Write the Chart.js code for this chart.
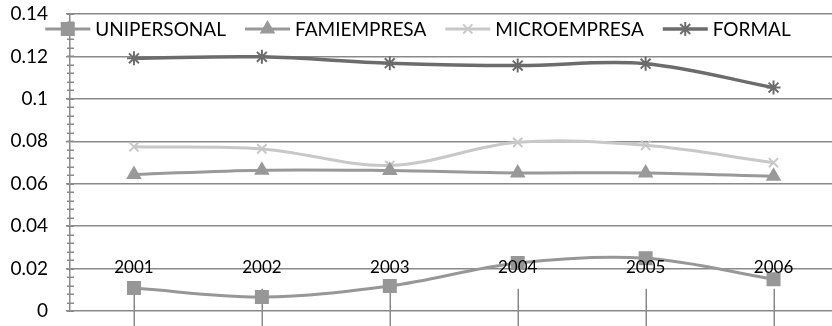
<!DOCTYPE html>
<html>
<head>
<meta charset="utf-8">
<script src="https://cdn.jsdelivr.net/npm/chart.js@4.4.0/dist/chart.umd.min.js"></script>
<style>
  html, body { margin: 0; padding: 0; background: #fff; overflow: hidden; }
  #wrap { width: 832px; height: 326px; overflow: hidden; position: relative; }
  #chart { display: block; }
</style>
</head>
<body>
<div id="wrap"><canvas id="chart" width="848" height="326"></canvas></div>
<script>
// chart data
const years = ['2001', '2002', '2003', '2004', '2005', '2006'];
const seriesNames = ['UNIPERSONAL', 'FAMIEMPRESA', 'MICROEMPRESA', 'FORMAL'];
const unipersonal = [0.0108, 0.0066, 0.0118, 0.0226, 0.0249, 0.0150];
const famiempresa = [0.0643, 0.0664, 0.0662, 0.0651, 0.0651, 0.0635];
const microempresa = [0.0774, 0.0764, 0.0686, 0.0795, 0.0781, 0.0699];
const formal = [0.1191, 0.1198, 0.1168, 0.1157, 0.1166, 0.1053];

const FONT = 'Lato, "Open Sans", sans-serif';
const GRID = '#8a8a8a';

function makeSet(label, data, color, style, radius, width) {
  return {
    label: label,
    data: data,
    borderColor: color,
    backgroundColor: color,
    borderWidth: width,
    tension: 0.35,
    pointStyle: style,
    pointRadius: radius,
    pointBorderWidth: 2,
    pointBorderColor: color,
    pointBackgroundColor: color,
  };
}

const datasets = [
  makeSet(seriesNames[0], unipersonal, '#979797', 'rect', 8.5, 3),
  makeSet(seriesNames[1], famiempresa, '#999999', 'triangle', 7, 3),
  makeSet(seriesNames[2], microempresa, '#c8c8c8', 'crossRot', 6.5, 3),
  makeSet(seriesNames[3], formal, '#6c6c6c', 'star', 7, 3.5),
];

// extra drawing: minor ticks, category ticks/labels, legend
const extras = {
  id: 'extras',
  beforeDatasetsDraw(chart) {
    const ctx = chart.ctx;
    const x = chart.scales.x;
    const y = chart.scales.y;
    const left = chart.chartArea.left;
    ctx.save();
    ctx.strokeStyle = GRID;
    ctx.lineWidth = 1.5;
    // minor ticks on the value axis
    for (let k = 0; k <= 35; k++) {
      const py = Math.round(y.getPixelForValue(k * 0.004)) + 0.25;
      ctx.beginPath();
      ctx.moveTo(left - 3, py);
      ctx.lineTo(left + 4, py);
      ctx.stroke();
    }
    // category tick lines
    years.forEach((yr, i) => {
      const px = Math.round(x.getPixelForValue(i)) + 0.25;
      ctx.beginPath();
      ctx.moveTo(px, y.getPixelForValue(0.0105));
      ctx.lineTo(px, chart.height);
      ctx.stroke();
    });
    ctx.restore();
  },
  afterDatasetsDraw(chart) {
    const ctx = chart.ctx;
    const x = chart.scales.x;
    const y = chart.scales.y;
    ctx.save();
    // category labels
    ctx.font = '17px ' + FONT;
    ctx.fillStyle = '#000';
    ctx.textAlign = 'center';
    ctx.textBaseline = 'middle';
    years.forEach((yr, i) => {
      ctx.fillText(yr, x.getPixelForValue(i), y.getPixelForValue(0.02) - 1);
    });
    // legend
    ctx.font = '19px ' + FONT;
    ctx.textAlign = 'left';
    const lineLen = 45, gap = 5, itemGap = 19;
    const widths = seriesNames.map((n) => ctx.measureText(n).width);
    let total = 0;
    widths.forEach((w) => { total += lineLen + gap + w; });
    total += itemGap * (widths.length - 1);
    let lx = 418 - total / 2;
    const ly = 29;
    chart.data.datasets.forEach((ds, i) => {
      ctx.strokeStyle = ds.borderColor;
      ctx.lineWidth = ds.borderWidth;
      ctx.beginPath();
      ctx.moveTo(lx, ly);
      ctx.lineTo(lx + lineLen, ly);
      ctx.stroke();
      ctx.fillStyle = ds.pointBackgroundColor;
      ctx.strokeStyle = ds.pointBorderColor;
      ctx.lineWidth = ds.pointBorderWidth;
      Chart.helpers.drawPoint(ctx, {
        pointStyle: ds.pointStyle,
        radius: ds.pointRadius,
        rotation: 0,
        borderWidth: ds.pointBorderWidth,
      }, lx + lineLen / 2, ly);
      ctx.fillStyle = '#000';
      ctx.fillText(seriesNames[i], lx + lineLen + gap, ly + 1);
      lx += lineLen + gap + widths[i] + itemGap;
    });
    ctx.restore();
  },
};

new Chart(document.getElementById('chart'), {
  type: 'line',
  data: { labels: years, datasets: datasets },
  options: {
    responsive: false,
    animation: false,
    layout: { padding: { left: 0, right: 4, top: 14, bottom: 15 } },
    plugins: { legend: { display: false }, tooltip: { enabled: false } },
    scales: {
      x: {
        display: false,
        offset: true,
      },
      y: {
        min: 0,
        max: 0.14,
        afterFit(scale) {
          scale.width = 70;
          scale.paddingTop = 0;
          scale.paddingBottom = 0;
        },
        border: { display: true, color: GRID, width: 1.5 },
        grid: { color: GRID, lineWidth: 1.5, tickLength: 4 },
        ticks: {
          stepSize: 0.02,
          padding: 18,
          color: '#000',
          font: { family: FONT, size: 19 },
          callback: (v) => String(Number(v.toFixed(2))),
        },
      },
    },
  },
  plugins: [extras],
});
</script>
</body>
</html>
